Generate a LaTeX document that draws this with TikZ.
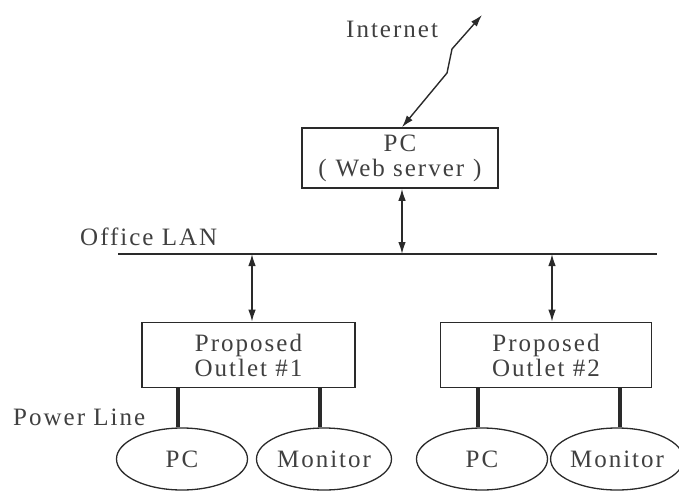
\documentclass[tikz,border=0pt]{standalone}
\usepackage{fontspec}
\setmainfont[LetterSpace=8]{Liberation Serif}
\usetikzlibrary{arrows.meta,shapes.geometric,calc}
\definecolor{ink}{HTML}{2A2A2A}
\definecolor{txt}{HTML}{404040}
\begin{document}
\begin{tikzpicture}[x=1pt,y=-1pt,
  every node/.style={font=\fontsize{25}{25}\selectfont, text=txt},
  box/.style={draw=ink, line width=1.6pt, rectangle, inner sep=0pt, align=center},
  oval/.style={draw=ink, line width=1.3pt, ellipse, inner sep=0pt, minimum height=62pt},
  biarrow/.style={draw=ink, line width=1.4pt, {Latex[length=12pt,width=7.5pt]}-{Latex[length=12pt,width=7.5pt]}},
  power/.style={draw=ink, line width=4.5pt},
  lan/.style={draw=ink, line width=1.8pt}]
\useasboundingbox (0,0) rectangle (679,492);

% boxes
\node[box, minimum width=196pt, minimum height=60pt] (srv) at (400,158)
  {PC\\(\hspace{9pt}Web server\hspace{9pt})};
\node[box, minimum width=213pt, minimum height=65pt] (out1) at (248.5,355)
  {Proposed\\Outlet \#1};
\node[box, minimum width=211pt, minimum height=65pt] (out2) at (546,355)
  {Proposed\\Outlet \#2};

% devices
\node[oval, minimum width=131pt] (pc1) at (182,459) {PC};
\node[oval, minimum width=135pt] (mon1) at (324,459) {Monitor};
\node[oval, minimum width=131pt] (pc2) at (482,459) {PC};
\node[oval, minimum width=121pt] (mon2) at (617,459) {Monitor};

% labels
\node[anchor=base west, inner sep=0pt] (lnet) at (346,38) {Internet};
\node[anchor=base west, inner sep=0pt] (llan) at (80,245) {Office LAN};
\node[anchor=base west, inner sep=0pt] (lpow) at (13,425) {Power Line};

% LAN bus
\coordinate (lanL) at (118,254);
\coordinate (lanR) at (657,254);
\coordinate (lan0) at (402,254);
\coordinate (lan1) at (252,254);
\coordinate (lan2) at (552,254);
\draw[lan] (lanL) -- (lanR);

% internet link
\coordinate (net) at (482,15);
\coordinate (z1) at (452,49);
\coordinate (z2) at (447,73);
\draw[biarrow] (net) -- (z1) -- (z2) -- ($(srv.north)+(2,0)$);

% LAN arrows
\draw[biarrow] (srv.south -| lan0) -- (lan0);
\draw[biarrow] (lan1) -- (lan1 |- out1.north);
\draw[biarrow] (lan2) -- (lan2 |- out2.north);

% power lines
\draw[power] ($(out1.south -| pc1.north)+(-4,0)$) -- ($(pc1.north)+(-4,0)$);
\draw[power] ($(out1.south -| mon1.north)+(-4,0)$) -- ($(mon1.north)+(-4,0)$);
\draw[power] ($(out2.south -| pc2.north)+(-4,0)$) -- ($(pc2.north)+(-4,0)$);
\draw[power] ($(out2.south -| mon2.north)+(3,0)$) -- ($(mon2.north)+(3,0)$);
\end{tikzpicture}
\end{document}
